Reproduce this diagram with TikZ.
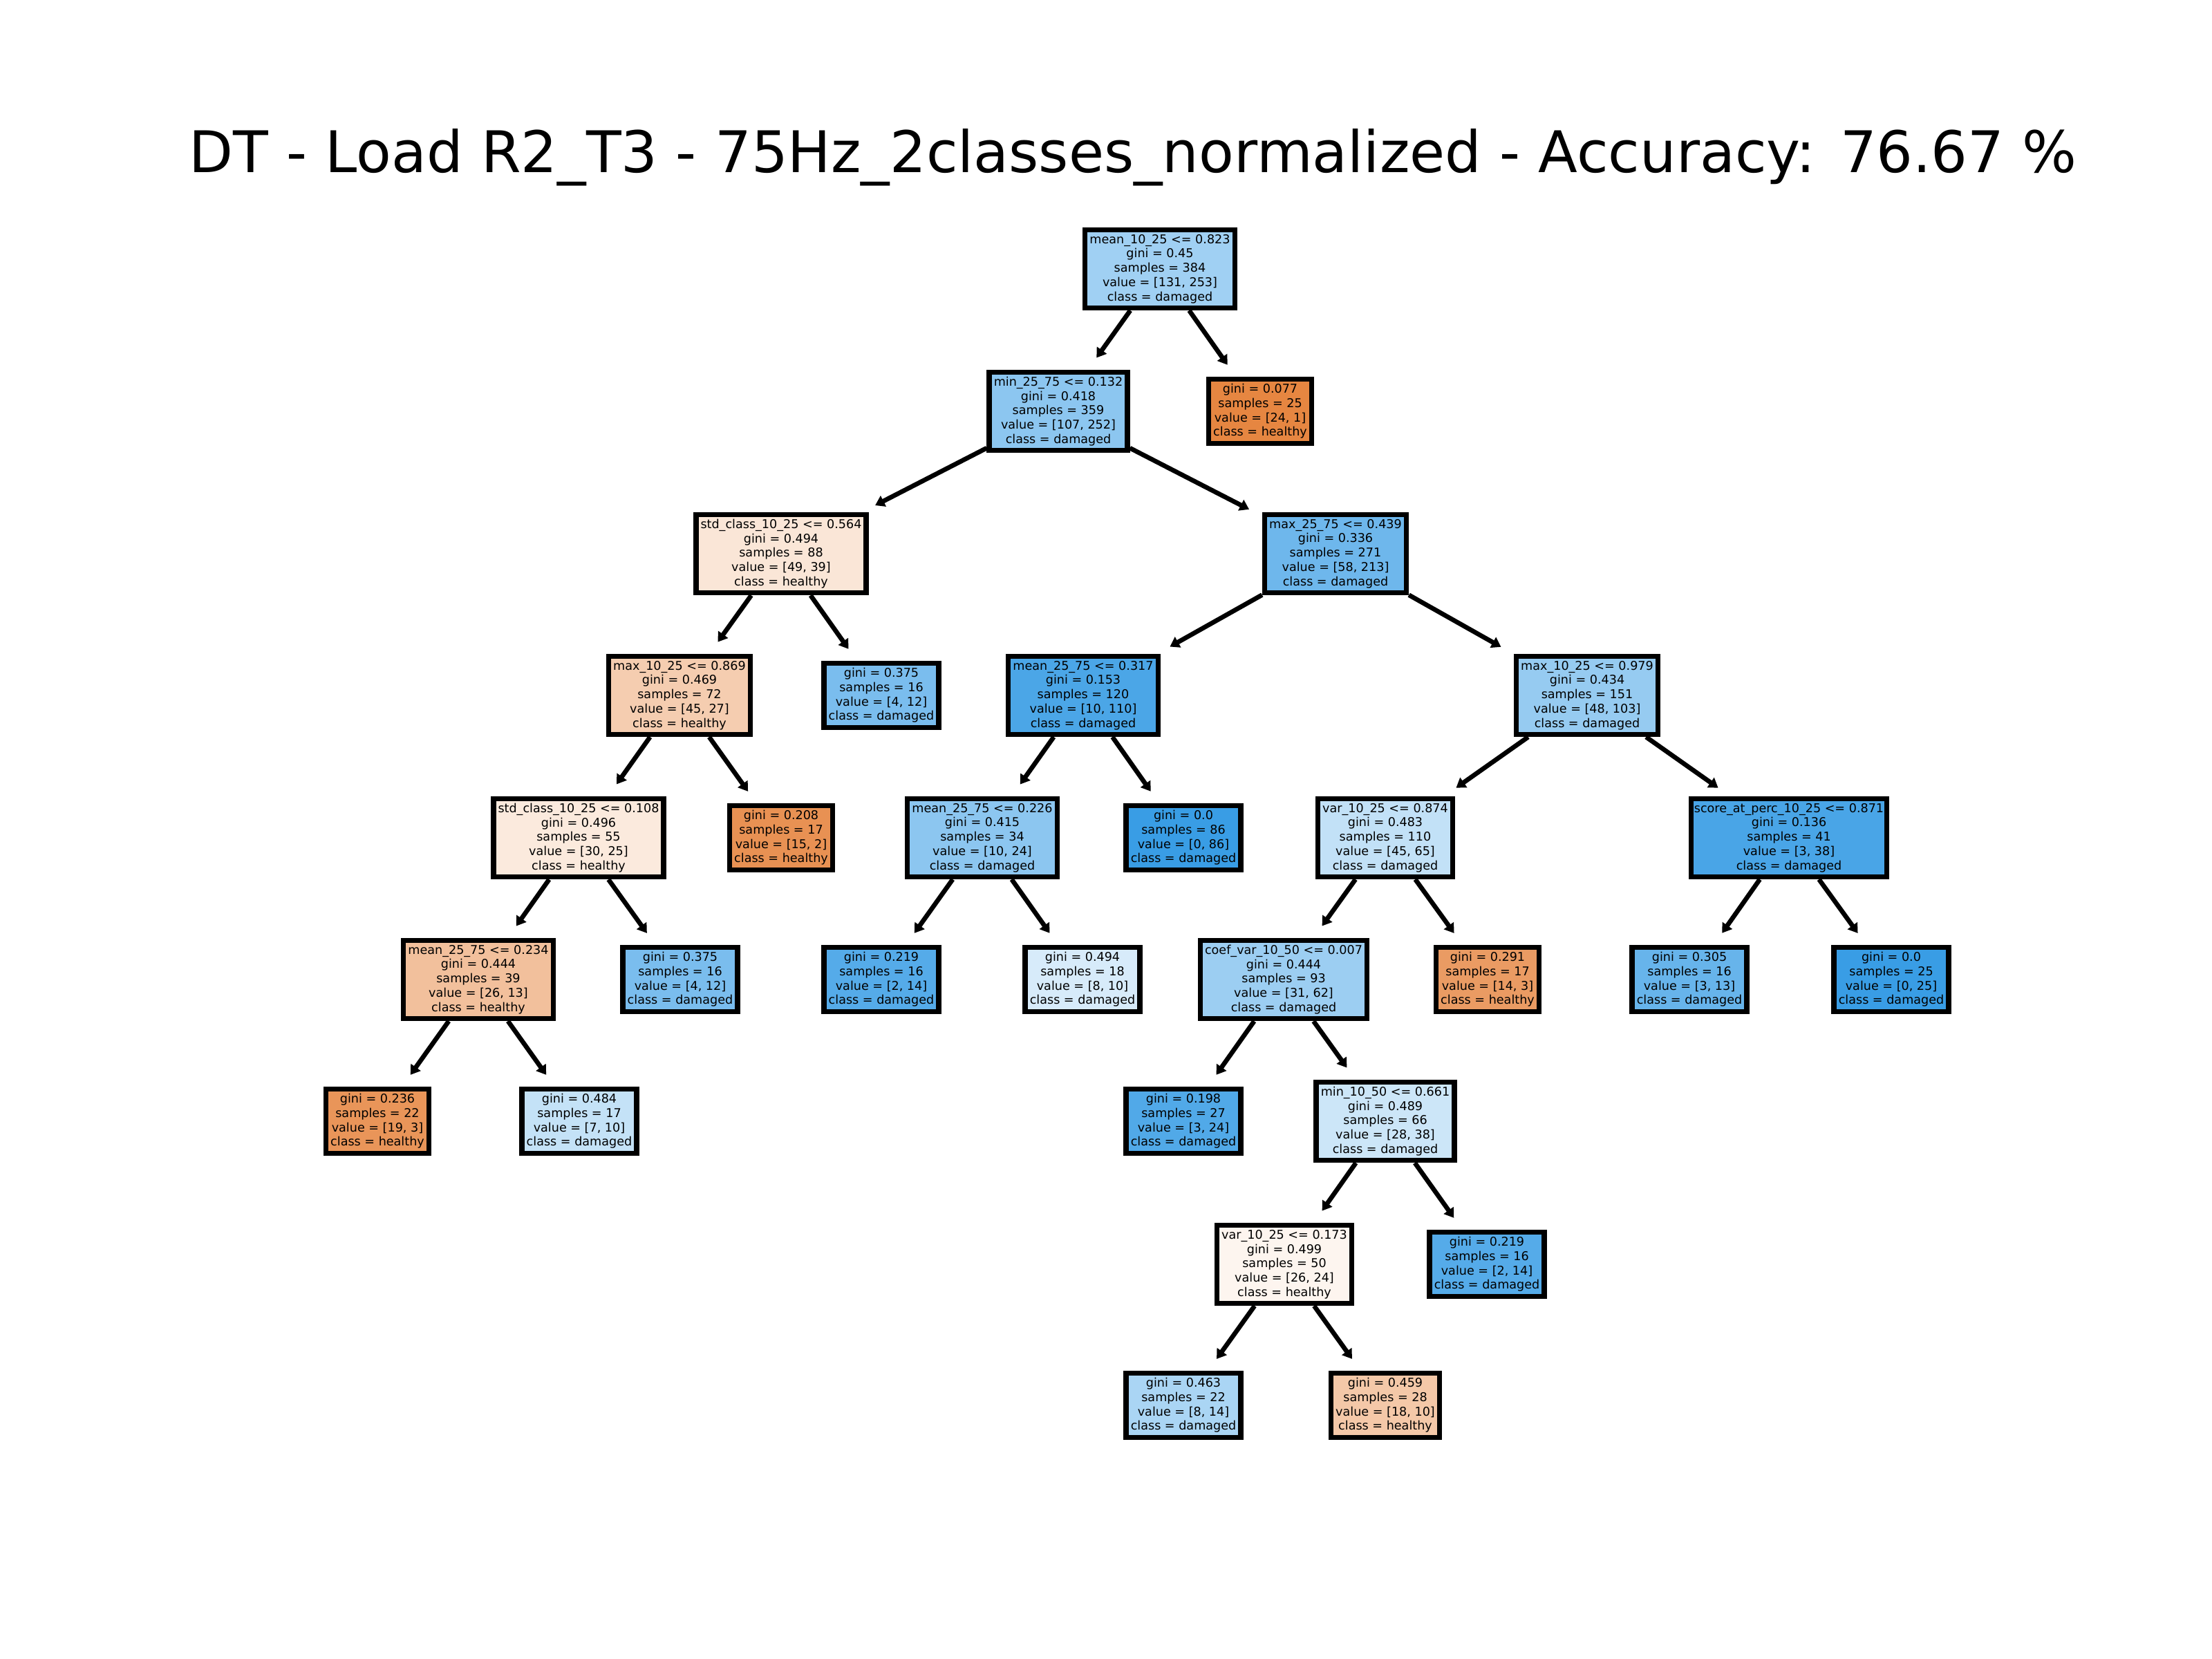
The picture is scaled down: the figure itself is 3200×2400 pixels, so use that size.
\documentclass[tikz,border=0pt]{standalone}
\usepackage{fontspec}
\setmainfont{DejaVu Sans}
\usetikzlibrary{arrows.meta}
\definecolor{hcol}{RGB}{229,129,57}
\definecolor{dcol}{RGB}{57,157,229}
\tikzset{
  tn/.style={draw=black, line width=2.1pt, rectangle, align=center, inner xsep=1.9pt, inner ysep=1.9pt,
    font=\fontsize{5}{5.89}\selectfont, text=black},
  edge/.style={line width=1.9pt, -{Triangle[length=3.8pt,width=4.8pt]}, shorten >=6pt}
}
\begin{document}
\begin{tikzpicture}[x=0.01cm,y=-0.01cm]
\useasboundingbox (0,0) rectangle (3200,2400);
\node[anchor=base, font=\fontsize{23.6}{28}\selectfont] (title) at (1639,249) {DT - Load R2\_T3 - 75Hz\_2classes\_normalized - Accuracy: 76.67 \%};
% level 0
\node[tn, fill=dcol!48] (n1) at (1678,389) {mean\_10\_25 <= 0.823\\gini = 0.45\\samples = 384\\value = [131, 253]\\class = damaged};
% level 1
\node[tn, fill=dcol!58] (n2) at (1531,595) {min\_25\_75 <= 0.132\\gini = 0.418\\samples = 359\\value = [107, 252]\\class = damaged};
\node[tn, fill=hcol!96] (n3) at (1823,595) {gini = 0.077\\samples = 25\\value = [24, 1]\\class = healthy};
% level 2
\node[tn, fill=hcol!20] (n4) at (1130,801) {std\_class\_10\_25 <= 0.564\\gini = 0.494\\samples = 88\\value = [49, 39]\\class = healthy};
\node[tn, fill=dcol!73] (n5) at (1932,801) {max\_25\_75 <= 0.439\\gini = 0.336\\samples = 271\\value = [58, 213]\\class = damaged};
% level 3
\node[tn, fill=hcol!40] (n6) at (983,1006) {max\_10\_25 <= 0.869\\gini = 0.469\\samples = 72\\value = [45, 27]\\class = healthy};
\node[tn, fill=dcol!67] (n7) at (1275,1006) {gini = 0.375\\samples = 16\\value = [4, 12]\\class = damaged};
\node[tn, fill=dcol!91] (n8) at (1567,1006) {mean\_25\_75 <= 0.317\\gini = 0.153\\samples = 120\\value = [10, 110]\\class = damaged};
\node[tn, fill=dcol!53] (n9) at (2296,1006) {max\_10\_25 <= 0.979\\gini = 0.434\\samples = 151\\value = [48, 103]\\class = damaged};
% level 4
\node[tn, fill=hcol!17] (n10) at (837,1212) {std\_class\_10\_25 <= 0.108\\gini = 0.496\\samples = 55\\value = [30, 25]\\class = healthy};
\node[tn, fill=hcol!87] (n11) at (1130,1212) {gini = 0.208\\samples = 17\\value = [15, 2]\\class = healthy};
\node[tn, fill=dcol!58] (n12) at (1421,1212) {mean\_25\_75 <= 0.226\\gini = 0.415\\samples = 34\\value = [10, 24]\\class = damaged};
\node[tn, fill=dcol] (n13) at (1712,1212) {gini = 0.0\\samples = 86\\value = [0, 86]\\class = damaged};
\node[tn, fill=dcol!31] (n14) at (2004,1212) {var\_10\_25 <= 0.874\\gini = 0.483\\samples = 110\\value = [45, 65]\\class = damaged};
\node[tn, fill=dcol!92, inner xsep=1.2pt] (n15) at (2588,1212) {score\_at\_perc\_10\_25 <= 0.871\\gini = 0.136\\samples = 41\\value = [3, 38]\\class = damaged};
% level 5
\node[tn, fill=hcol!50] (n16) at (692,1417) {mean\_25\_75 <= 0.234\\gini = 0.444\\samples = 39\\value = [26, 13]\\class = healthy};
\node[tn, fill=dcol!67] (n17) at (984,1417) {gini = 0.375\\samples = 16\\value = [4, 12]\\class = damaged};
\node[tn, fill=dcol!86] (n18) at (1275,1417) {gini = 0.219\\samples = 16\\value = [2, 14]\\class = damaged};
\node[tn, fill=dcol!20] (n19) at (1566,1417) {gini = 0.494\\samples = 18\\value = [8, 10]\\class = damaged};
\node[tn, fill=dcol!50] (n20) at (1857,1417) {coef\_var\_10\_50 <= 0.007\\gini = 0.444\\samples = 93\\value = [31, 62]\\class = damaged};
\node[tn, fill=hcol!79] (n21) at (2152,1417) {gini = 0.291\\samples = 17\\value = [14, 3]\\class = healthy};
\node[tn, fill=dcol!77] (n22) at (2444,1417) {gini = 0.305\\samples = 16\\value = [3, 13]\\class = damaged};
\node[tn, fill=dcol] (n23) at (2736,1417) {gini = 0.0\\samples = 25\\value = [0, 25]\\class = damaged};
% level 6
\node[tn, fill=hcol!84] (n24) at (546,1622) {gini = 0.236\\samples = 22\\value = [19, 3]\\class = healthy};
\node[tn, fill=dcol!30] (n25) at (838,1622) {gini = 0.484\\samples = 17\\value = [7, 10]\\class = damaged};
\node[tn, fill=dcol!88] (n26) at (1712,1622) {gini = 0.198\\samples = 27\\value = [3, 24]\\class = damaged};
\node[tn, fill=dcol!26] (n27) at (2004,1622) {min\_10\_50 <= 0.661\\gini = 0.489\\samples = 66\\value = [28, 38]\\class = damaged};
% level 7
\node[tn, fill=hcol!8] (n28) at (1858,1829) {var\_10\_25 <= 0.173\\gini = 0.499\\samples = 50\\value = [26, 24]\\class = healthy};
\node[tn, fill=dcol!86] (n29) at (2151,1829) {gini = 0.219\\samples = 16\\value = [2, 14]\\class = damaged};
% level 8
\node[tn, fill=dcol!43] (n30) at (1712,2033) {gini = 0.463\\samples = 22\\value = [8, 14]\\class = damaged};
\node[tn, fill=hcol!44] (n31) at (2004,2033) {gini = 0.459\\samples = 28\\value = [18, 10]\\class = healthy};
% edges
\foreach \a/\b in {n1/n2,n1/n3,n2/n4,n2/n5,n4/n6,n4/n7,n5/n8,n5/n9,n6/n10,n6/n11,n8/n12,n8/n13,n9/n14,n9/n15,n10/n16,n10/n17,n12/n18,n12/n19,n14/n20,n14/n21,n15/n22,n15/n23,n16/n24,n16/n25,n20/n26,n20/n27,n27/n28,n27/n29,n28/n30,n28/n31}
  \draw[edge] (\a) -- (\b);
\end{tikzpicture}
\end{document}
